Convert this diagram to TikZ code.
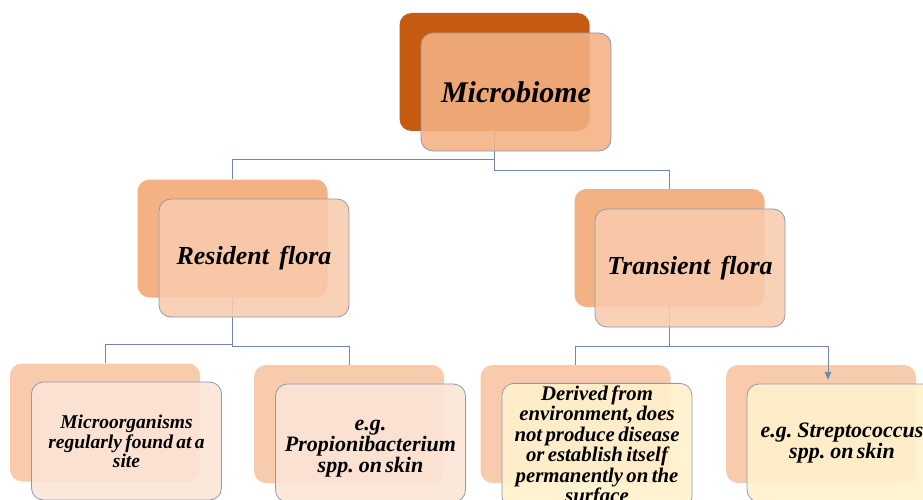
\documentclass[tikz,border=0pt]{standalone}
\usepackage{fontspec}
\setmainfont{Liberation Serif}[
	BoldFont={Liberation Serif Bold},
	ItalicFont={Liberation Serif Italic},
	BoldItalicFont={Liberation Serif Bold Italic}]
\usepackage{tikz}
\usetikzlibrary{arrows,calc,positioning}

\definecolor{mbdark}{HTML}{C55A11}
\definecolor{orangemid}{HTML}{F4B183}
\definecolor{orangelight}{HTML}{F8CBAD}
\definecolor{peach}{HTML}{FBE5D6}
\definecolor{cream}{HTML}{FFF2CC}
\definecolor{edgeblue}{HTML}{8A9BB5}
\definecolor{linkblue}{HTML}{6F88AC}

\begin{document}
\begin{tikzpicture}[x=1pt,y=-1pt,>=triangle 45,
	box/.style={rectangle,rounded corners=12pt,minimum width=190pt,
		minimum height=118pt,inner sep=2pt,align=center,
		font=\bfseries\itshape},
	backbox/.style={box,draw=none},
	frontbox/.style={box,draw=edgeblue,line width=0.8pt,fill opacity=0.88,
		text opacity=1,text width=184pt},
	boxtext/.style={align=center,text width=184pt,font=\bfseries\itshape},
	link/.style={draw=linkblue,line width=0.8pt}]

	\clip (0,0) rectangle (923,500);
	\fill[white] (0,0) rectangle (923,500);

	\node[backbox,fill=mbdark] (mbback) at (494.5,72) {};
	\node[backbox,fill=orangemid] (rfback) at (232.5,238.5) {};
	\node[backbox,fill=orangemid] (tfback) at (669.5,248) {};
	\node[backbox,fill=orangelight] (b1back) at (105,422.5) {};
	\node[backbox,fill=orangelight] (b2back) at (349,424) {};
	\node[backbox,fill=orangelight] (b3back) at (575.5,424) {};
	\node[backbox,fill=orangelight] (b4back) at (821,424) {};

	\path[link] (mbback.south) -- ++(0,28) -| (rfback.north);
	\path[link] (mbback.south) -- ++(0,39) -| (tfback.north);
	\path[link] (rfback.south) -- ++(0,47) -| (b1back.north);
	\path[link] (rfback.south) -- ++(0,49) -| (b2back.north);
	\path[link] (tfback.south) -- ++(0,39) -| (b3back.north);
	\path[link,->] (tfback.south) -- ++(0,39) -| ($(b4back.north)+(7,15)$);

	\node[frontbox,fill=orangemid] (mb) at (516,92)
		{\fontsize{30}{33}\selectfont Microbiome};
	\node[frontbox,fill=orangelight] (rf) at (254,258)
		{\fontsize{26}{29}\selectfont Resident\hspace{0.4em}flora};
	\node[frontbox,fill=orangelight] (tf) at (690,268)
		{\fontsize{26}{29}\selectfont Transient\hspace{0.4em}flora};
	\node[frontbox,fill=peach] (b1) at (126.5,441)
		{\fontsize{19.5}{20}\selectfont Microorganisms\\regularly found at a\\site};
	\node[frontbox,fill=peach] (b2) at (370.5,443) {};
	\node[boxtext] (b2text) at ([yshift=-6pt]b2.center)
		{\fontsize{22}{19.5}\selectfont e.g.\\Propionibacterium\\spp. on skin};
	\node[frontbox,fill=cream] (b3) at (597,446)
		{\fontsize{20.8}{20.5}\selectfont Derived from\\environment, does\\not produce disease\\or establish itself\\permanently on the\\surface};
	\node[frontbox,fill=cream] (b4) at (842,443)
		{\fontsize{22}{20}\selectfont e.g. Streptococcus\\spp. on skin};
\end{tikzpicture}
\end{document}
